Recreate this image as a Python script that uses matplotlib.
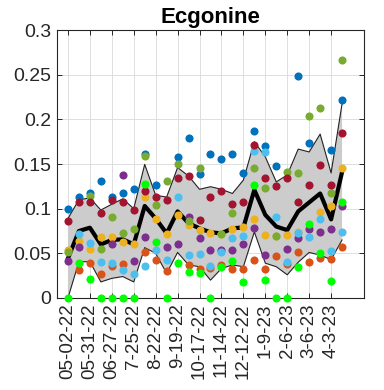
import numpy as np
import matplotlib
matplotlib.use('Agg')
import matplotlib.pyplot as plt

nan = np.nan

# sample index (biweekly samples), ticks every second sample
tick_labels = ['05-02-22', '05-31-22', '06-27-22', '7-25-22', '8-22-22', '9-19-22',
               '10-17-22', '11-14-22', '12-12-22', '1-9-23', '2-6-23', '3-6-23', '4-3-23']

blue = [0.100, 0.113, 0.118, 0.131, 0.113, 0.118, 0.122, 0.161, 0.1265, nan, 0.1575, 0.179, 0.139,
        0.161, 0.156, 0.161, 0.140, 0.187, 0.170, 0.148, nan, 0.2485, 0.174, nan, 0.166, 0.222]
orange = [nan, 0.031, 0.0395, 0.0265, 0.036, 0.038, nan, 0.051, 0.042, 0.030, nan, 0.037, 0.033,
          0.034, 0.037, 0.033, 0.033, 0.042, 0.033, 0.0474, 0.038, 0.051, 0.040, 0.0444, 0.0437, 0.0567]
yellow = [0.054, 0.064, 0.0545, 0.068, 0.0687, 0.063, 0.061, 0.113, 0.088, 0.072, 0.093, 0.082, 0.076,
          0.0724, 0.072, 0.077, 0.079, 0.089, 0.070, 0.069, 0.070, 0.074, nan, 0.0966, 0.1034, 0.146]
purple = [0.041, 0.0575, nan, nan, 0.060, 0.138, 0.041, 0.068, nan, 0.0575, 0.061, 0.091, 0.067,
          0.054, 0.054, 0.054, 0.060, 0.078, 0.048, nan, 0.0545, 0.0675, 0.077, 0.074, 0.077, 0.1034]
green = [0.051, nan, 0.114, 0.0545, 0.091, 0.073, 0.077, 0.159, 0.104, 0.131, 0.150, 0.0865, 0.145,
         nan, 0.072, 0.095, nan, 0.145, 0.123, 0.069, 0.141, 0.140, 0.204, 0.213, 0.118, 0.267]
lightblue = [nan, 0.072, 0.062, 0.040, 0.0395, 0.031, 0.0265, 0.036, 0.054, 0.042, 0.113, 0.048, 0.049,
             0.036, 0.051, 0.067, 0.069, 0.165, 0.164, 0.091, 0.040, 0.073, 0.068, 0.089, 0.0526, 0.0735]
red = [0.086, 0.107, 0.108, 0.0955, 0.110, 0.107, 0.0985, 0.120, 0.113, 0.110, 0.134, 0.137, 0.087,
       0.113, 0.120, 0.105, 0.108, 0.171, 0.134, 0.125, 0.134, 0.107, 0.126, 0.149, 0.126, 0.185]
lime = [0.0, 0.0395, 0.021, 0.0, 0.0, 0.0, 0.0, 0.128, 0.063, 0.0, 0.0395, 0.0295, 0.0276,
        0.0, 0.035, 0.041, 0.018, 0.126, 0.020, 0.0, 0.0, 0.035, 0.083, 0.050, 0.019, 0.107]

mean_line = [0.0444, 0.075, 0.0787, 0.060, 0.065, 0.0657, 0.060, 0.103, 0.089, 0.0724, 0.097, 0.0836, 0.078,
             0.0735, 0.0724, 0.078, 0.079, 0.121, 0.093, 0.080, 0.076, 0.097, 0.107, 0.117, 0.088, 0.141]
upper = [0.089, 0.110, 0.112, 0.0985, 0.105, 0.111, 0.100, 0.1496, 0.115, 0.113, 0.146, 0.1366, 0.1217,
         0.1246, 0.1217, 0.117, 0.132, 0.175, 0.158, 0.130, 0.1377, 0.1667, 0.1635, 0.1835, 0.140, 0.2175]
lower = [0.0, 0.0406, 0.0406, 0.018, 0.022, 0.024, 0.018, 0.0564, 0.050, 0.0276, 0.051, 0.037, 0.035,
         0.020, 0.033, 0.037, 0.035, 0.074, 0.039, 0.035, 0.026, 0.040, 0.051, 0.048, 0.043, 0.065]

x = np.arange(len(mean_line))

plt.rcParams['font.family'] = ['Liberation Sans', 'DejaVu Sans']

fig = plt.figure(figsize=(3.84, 3.90), dpi=100)
ax = fig.add_axes([0.1484, 0.2359, 0.7995, 0.6871])

"""band and mean"""
ax.fill_between(x, lower, upper, facecolor='#cccccc', edgecolor='none', zorder=2)
ax.plot(x, upper, color='#222222', lw=0.8, zorder=2.5)
ax.plot(x, lower, color='#222222', lw=0.8, zorder=2.5)
ax.plot(x, mean_line, color='black', lw=3, zorder=3)

"""site dots"""
series = [blue, orange, yellow, purple, green, lightblue, red, lime]
colors = ['#0072BD', '#D95319', '#EDB120', '#7E2F8E', '#77AC30', '#4DBEEE', '#A2142F', '#00FF00']
for vals, c in zip(series, colors):
    ax.scatter(x, vals, s=34, color=c, linewidths=0, zorder=4, clip_on=False)

ax.set_xlim(-1, 27)
ax.set_ylim(0, 0.3)
ax.set_xticks(x[::2])
ax.set_xticklabels(tick_labels, rotation=90, fontsize=13.5, color='#262626')
ax.set_yticks([0, 0.05, 0.1, 0.15, 0.2, 0.25, 0.3])
ax.set_yticklabels(['0', '0.05', '0.1', '0.15', '0.2', '0.25', '0.3'], fontsize=14, color='#262626')
ax.tick_params(direction='in', length=3.5, width=0.7, top=True, right=True, colors='#262626', pad=4)
ax.grid(True, color='#dedede', lw=0.7, zorder=0)
ax.set_axisbelow(True)
for s in ax.spines.values():
    s.set_color('#262626')
    s.set_linewidth(0.8)

ax.set_title('Ecgonine', fontsize=16, fontweight='bold', pad=5)

fig.savefig('out.png', dpi=100)
